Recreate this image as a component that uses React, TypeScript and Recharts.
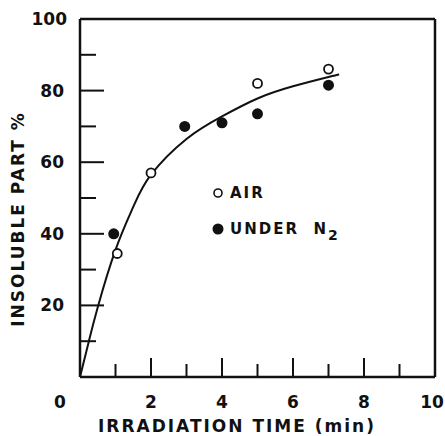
import React from 'react';
import { ComposedChart, XAxis, YAxis, Scatter, Line, ReferenceLine } from 'recharts';

const X_TICKS = [0, 1, 2, 3, 4, 5, 6, 7, 8, 9, 10];
const Y_TICKS = [10, 20, 30, 40, 50, 60, 70, 80, 90, 100];

const AIR_TIME = [1.05, 2, 5, 7];
const AIR_VALUE = [34.5, 57, 82, 86];
const N2_TIME = [0.95, 2.95, 4, 5, 7];
const N2_VALUE = [40, 70, 71, 73.5, 81.5];

// fitted curve as drawn in the figure
const CURVE_TIME = [0, 0.25, 0.5, 1, 1.5, 2, 3, 4, 5, 6, 7, 7.3];
const CURVE_VALUE = [0, 10, 19.5, 35.5, 47.5, 56.5, 66.5, 72.8, 77.8, 81.2, 83.8, 84.5];

const air = AIR_TIME.map((x, i) => ({ x, y: AIR_VALUE[i] }));
const n2 = N2_TIME.map((x, i) => ({ x, y: N2_VALUE[i] }));
const curve = CURVE_TIME.map((x, i) => ({ x, y: CURVE_VALUE[i] }));

const INK = '#111';
const FONT = '"DejaVu Sans", sans-serif';

function XTick(props: any) {
  const { x, y, payload } = props;
  const v = payload.value;
  const major = v % 2 === 0;
  const inner = v !== 0 && v !== 10;
  const tx = v === 0 ? x - 20 : v === 10 ? x - 3 : x;
  return (
    <g>
      {inner && <line x1={x} x2={x} y1={y} y2={y - (major ? 19 : 13)} stroke={INK} strokeWidth={2} />}
      {major && (
        <text x={tx} y={y + 31} textAnchor="middle" fontSize={17} fontWeight="bold" fontFamily={FONT} fill={INK}>
          {v}
        </text>
      )}
    </g>
  );
}

function YTick(props: any) {
  const { x, y, payload } = props;
  const v = payload.value;
  const major = v % 20 === 0;
  return (
    <g>
      {v !== 100 && <line x1={x} x2={x + (major ? 24 : 16)} y1={y} y2={y} stroke={INK} strokeWidth={2} />}
      {major && (
        <text x={x - (v === 100 ? 13 : 16)} y={y + 6} textAnchor="end" fontSize={17} fontWeight="bold" fontFamily={FONT} fill={INK}>
          {v}
        </text>
      )}
    </g>
  );
}

function LegendBox() {
  return (
    <div
      style={{
        position: 'absolute',
        left: 211,
        top: 175,
        fontFamily: FONT,
        fontSize: 15,
        fontWeight: 'bold',
        color: INK,
        letterSpacing: 2,
        lineHeight: '36px',
        whiteSpace: 'nowrap',
      }}
    >
      <div style={{ display: 'flex', alignItems: 'center', height: 36 }}>
        <svg width={14} height={14} style={{ marginRight: 5 }}>
          <circle cx={7} cy={7} r={4} fill="#fff" stroke={INK} strokeWidth={1.6} />
        </svg>
        AIR
      </div>
      <div style={{ display: 'flex', alignItems: 'center', height: 36 }}>
        <svg width={14} height={14} style={{ marginRight: 5 }}>
          <circle cx={7} cy={7} r={5.5} fill={INK} />
        </svg>
        UNDER&nbsp;&nbsp;N
        <span style={{ fontSize: 14, position: 'relative', top: 6, letterSpacing: 0 }}>2</span>
      </div>
    </div>
  );
}

export default function App() {
  return (
    <div style={{ position: 'absolute', left: 0, top: 0, width: 445, height: 436, background: '#fff' }}>
      <ComposedChart width={445} height={436} margin={{ top: 19, right: 10, bottom: 0, left: 0 }}>
        <XAxis
          dataKey="x"
          type="number"
          domain={[0, 10]}
          ticks={X_TICKS}
          interval={0}
          height={59}
          tickSize={0}
          tickMargin={0}
          tickLine={false}
          axisLine={{ stroke: INK, strokeWidth: 2.5 }}
          tick={<XTick />}
          label={{
            content: () => (
              <text x={237} y={432} textAnchor="middle" fontSize={17} fontWeight="bold" fontFamily={FONT} fill={INK} letterSpacing={2}>
                IRRADIATION TIME (min)
              </text>
            ),
          }}
        />
        <YAxis
          dataKey="y"
          type="number"
          domain={[0, 100]}
          ticks={Y_TICKS}
          interval={0}
          width={80}
          tickSize={0}
          tickMargin={0}
          tickLine={false}
          axisLine={{ stroke: INK, strokeWidth: 2.5 }}
          tick={<YTick />}
          label={{
            content: () => (
              <text
                x={24}
                y={219}
                transform="rotate(-90 24 219)"
                textAnchor="middle"
                fontSize={17}
                fontWeight="bold"
                fontFamily={FONT}
                fill={INK}
                letterSpacing={2}
              >
                INSOLUBLE PART %
              </text>
            ),
          }}
        />
        <ReferenceLine y={100} stroke={INK} strokeWidth={2.5} />
        <ReferenceLine x={10} stroke={INK} strokeWidth={2.5} />
        <Line
          data={curve}
          dataKey="y"
          type="natural"
          stroke={INK}
          strokeWidth={2}
          dot={false}
          activeDot={false}
          isAnimationActive={false}
          legendType="none"
        />
        <Scatter
          data={air}
          dataKey="y"
          isAnimationActive={false}
          shape={(p: any) => <circle cx={p.cx} cy={p.cy} r={4.5} fill="#fff" stroke={INK} strokeWidth={1.8} />}
        />
        <Scatter
          data={n2}
          dataKey="y"
          isAnimationActive={false}
          shape={(p: any) => <circle cx={p.cx} cy={p.cy} r={5.5} fill={INK} />}
        />
      </ComposedChart>
      <LegendBox />
    </div>
  );
}
